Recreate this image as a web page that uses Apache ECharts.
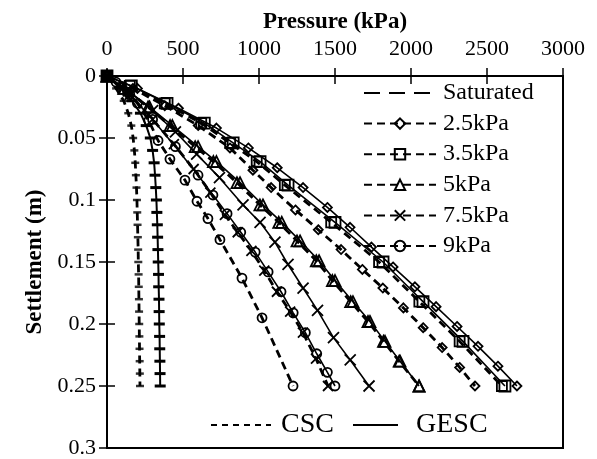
<!DOCTYPE html>
<html lang="en" style="height: 100%">
<head>
  <meta charset="utf-8">
</head>
<body style="height: 100%; margin: 0; background: #fff">
  <div id="container" style="width: 597px; height: 459px"></div>

  <script type="text/javascript" src="https://cdn.jsdelivr.net/npm/echarts@6/dist/echarts.min.js"></script>

  <script type="text/javascript">
    // settlement (m) and pressure (kPa)
    var SAT_S = [0, 0.01, 0.02, 0.03, 0.04, 0.05, 0.06, 0.07, 0.08, 0.09, 0.1, 0.11, 0.12, 0.13,
                 0.14, 0.15, 0.16, 0.17, 0.18, 0.19, 0.2, 0.21, 0.22, 0.23, 0.24, 0.25];
    var SAT_CSC_P = [0, 60, 110, 140, 160, 172, 180, 186, 190, 194, 197, 199, 201, 203,
                     205, 206, 208, 209, 210, 211, 212, 213, 214, 215, 216, 217];
    var SAT_GESC_P = [0, 90, 165, 220, 258, 285, 300, 310, 316, 321, 325, 328, 331, 333,
                      335, 337, 339, 340, 342, 343, 344, 346, 347, 348, 349, 350];

    var K25_CSC_S = [0, 0.01, 0.024, 0.04, 0.058, 0.076, 0.09, 0.108, 0.124, 0.14, 0.156, 0.171, 0.187, 0.203, 0.219, 0.235, 0.25];
    var K25_CSC_P = [0, 170, 380, 600, 809, 960, 1080, 1240, 1390, 1540, 1680, 1815, 1950, 2080, 2205, 2320, 2421];
    var K25_GESC_S = [0, 0.01, 0.026, 0.042, 0.058, 0.074, 0.09, 0.106, 0.122, 0.138, 0.154, 0.17, 0.186, 0.202, 0.218, 0.234, 0.25];
    var K25_GESC_P = [0, 200, 470, 720, 930, 1120, 1290, 1450, 1599, 1740, 1882, 2026, 2165, 2303, 2441, 2572, 2697];

    var K35_S = [0, 0.008, 0.022, 0.038, 0.054, 0.069, 0.088, 0.118, 0.15, 0.182, 0.214, 0.25];
    var K35_CSC_P = [0, 150, 380, 620, 810, 985, 1170, 1475, 1790, 2055, 2320, 2598];
    var K35_GESC_P = [0, 160, 395, 640, 830, 1007, 1191, 1500, 1816, 2079, 2342, 2618];

    var K5_S = [0, 0.01, 0.025, 0.04, 0.057, 0.069, 0.086, 0.104, 0.118, 0.133, 0.149, 0.165, 0.182, 0.198, 0.214, 0.23, 0.25];
    var K5_CSC_P = [0, 110, 270, 415, 580, 700, 855, 1006, 1130, 1250, 1377, 1483, 1603, 1717, 1819, 1922, 2053];
    var K5_GESC_P = [0, 115, 280, 430, 599, 720, 875, 1026, 1150, 1270, 1395, 1500, 1618, 1730, 1829, 1928, 2053];

    var K75_CSC_S = [0, 0.015, 0.035, 0.055, 0.075, 0.094, 0.112, 0.126, 0.141, 0.157, 0.174, 0.19, 0.207, 0.228, 0.25];
    var K75_CSC_P = [0, 150, 300, 440, 570, 680, 776, 860, 950, 1035, 1118, 1205, 1289, 1375, 1454];
    var K75_GESC_S = [0, 0.012, 0.028, 0.045, 0.063, 0.082, 0.104, 0.118, 0.134, 0.152, 0.171, 0.189, 0.211, 0.229, 0.25];
    var K75_GESC_P = [0, 140, 300, 450, 590, 740, 895, 1007, 1105, 1191, 1290, 1385, 1490, 1600, 1724];

    var K9_CSC_S = [0, 0.005, 0.013, 0.022, 0.036, 0.052, 0.067, 0.084, 0.101, 0.115, 0.132, 0.163, 0.195, 0.25];
    var K9_CSC_P = [0, 60, 135, 200, 275, 336, 414, 513, 592, 664, 743, 888, 1020, 1224];
    var K9_GESC_S = [0, 0.015, 0.035, 0.057, 0.08, 0.096, 0.111, 0.126, 0.142, 0.158, 0.174, 0.191, 0.207, 0.224, 0.239, 0.25];
    var K9_GESC_P = [0, 150, 300, 450, 599, 697, 790, 880, 975, 1060, 1145, 1225, 1305, 1380, 1450, 1500];

    var LEGEND_NAMES = ['Saturated', '2.5kPa', '3.5kPa', '5kPa', '7.5kPa', '9kPa'];
    var X_TICKS = { min: 0, max: 3000, interval: 500 };
    var Y_TICKS = { min: 0, max: 0.3, interval: 0.05 };

    var FONT = 'Liberation Serif';
    var CROSS = 'path://M0 0L10 10M10 0L0 10';

    function pairs(p, s) {
      return p.map(function (v, i) { return [v, s[i]]; });
    }

    // dashed = CSC, solid = GESC
    function curve(name, p, s, dashed, symbol, size) {
      return {
        name: name,
        type: 'line',
        data: pairs(p, s),
        symbol: symbol,
        symbolSize: size,
        showAllSymbol: true,
        lineStyle: dashed ? { color: '#000', width: 2.8, type: [8, 5] } : { color: '#000', width: 1.6 },
        itemStyle: { color: 'rgba(255,255,255,0)', borderColor: '#000', borderWidth: 1.8 },
        z: dashed ? 3 : 2
      };
    }

    var series = [
      // saturated CSC: line alone for the legend, bars drawn by a scatter
      {
        name: 'Saturated', type: 'line', data: pairs(SAT_CSC_P, SAT_S), symbol: 'none',
        lineStyle: { color: '#000', width: 2.8, type: [8, 5] },
        itemStyle: { color: 'rgba(0,0,0,0)', borderWidth: 0 }
      },
      {
        name: 'Saturated CSC pts', type: 'scatter', data: pairs(SAT_CSC_P, SAT_S),
        symbol: 'rect', symbolSize: [8, 2.5], itemStyle: { color: '#000' }
      },
      {
        name: 'Saturated GESC', type: 'line', data: pairs(SAT_GESC_P, SAT_S),
        symbol: 'rect', symbolSize: [11, 3], showAllSymbol: true,
        lineStyle: { color: '#000', width: 2 }, itemStyle: { color: '#000' }
      },
      curve('2.5kPa', K25_CSC_P, K25_CSC_S, true, 'diamond', 9),
      curve('2.5kPa GESC', K25_GESC_P, K25_GESC_S, false, 'diamond', 9),
      curve('3.5kPa', K35_CSC_P, K35_S, true, 'rect', 10),
      curve('3.5kPa GESC', K35_GESC_P, K35_S, false, 'rect', 11),
      curve('5kPa', K5_CSC_P, K5_S, true, 'triangle', 11),
      curve('5kPa GESC', K5_GESC_P, K5_S, false, 'triangle', 11),
      curve('7.5kPa', K75_CSC_P, K75_CSC_S, true, CROSS, 10),
      curve('7.5kPa GESC', K75_GESC_P, K75_GESC_S, false, CROSS, 11),
      curve('9kPa', K9_CSC_P, K9_CSC_S, true, 'circle', 9),
      curve('9kPa GESC', K9_GESC_P, K9_GESC_S, false, 'circle', 9),
      // dummy series for the line-style legend
      {
        name: 'CSC', type: 'line', data: [], symbol: 'none',
        lineStyle: { color: '#000', width: 1.5, type: [6, 5] },
        itemStyle: { color: 'rgba(0,0,0,0)', borderWidth: 0 }
      },
      {
        name: 'GESC', type: 'line', data: [], symbol: 'none',
        lineStyle: { color: '#000', width: 1.5 },
        itemStyle: { color: 'rgba(0,0,0,0)', borderWidth: 0 }
      }
    ];

    var chart = echarts.init(document.getElementById('container'), null, { renderer: 'canvas' });

    var axisTextStyle = { color: '#000', fontFamily: FONT };

    var option = {
      animation: false,
      backgroundColor: '#fff',
      textStyle: { fontFamily: FONT, color: '#000' },
      grid: {
        left: 107, right: 34, top: 76, bottom: 9,
        show: true, borderColor: '#000', borderWidth: 2, backgroundColor: 'transparent'
      },
      xAxis: [
        {
          type: 'value', position: 'top', min: X_TICKS.min, max: X_TICKS.max, interval: X_TICKS.interval,
          name: 'Pressure (kPa)', nameLocation: 'middle', nameGap: 42,
          nameTextStyle: { fontSize: 23, fontWeight: 'bold', color: '#000', fontFamily: FONT },
          axisLine: { lineStyle: { color: '#000', width: 2 } },
          axisTick: { inside: false, length: 8, lineStyle: { color: '#000', width: 1.5 } },
          axisLabel: Object.assign({ fontSize: 22, margin: 16, formatter: function (v) { return String(v); } }, axisTextStyle),
          splitLine: { show: false }
        },
        {
          type: 'value', position: 'top', min: X_TICKS.min, max: X_TICKS.max, interval: X_TICKS.interval,
          axisLine: { show: false },
          axisTick: { inside: true, length: 8, lineStyle: { color: '#000', width: 1.5 } },
          axisLabel: { show: false },
          splitLine: { show: false }
        }
      ],
      yAxis: [
        {
          type: 'value', position: 'left', inverse: true,
          min: Y_TICKS.min, max: Y_TICKS.max, interval: Y_TICKS.interval,
          name: 'Settlement (m)', nameLocation: 'middle', nameGap: 59,
          nameTextStyle: { fontSize: 23, fontWeight: 'bold', color: '#000', fontFamily: FONT },
          axisLine: { lineStyle: { color: '#000', width: 2 } },
          axisTick: { inside: false, length: 8, lineStyle: { color: '#000', width: 1.5 } },
          axisLabel: Object.assign({ fontSize: 22, margin: 11 }, axisTextStyle),
          splitLine: { show: false }
        },
        {
          type: 'value', position: 'left', inverse: true,
          min: Y_TICKS.min, max: Y_TICKS.max, interval: Y_TICKS.interval,
          axisLine: { show: false },
          axisTick: { inside: true, length: 8, lineStyle: { color: '#000', width: 1.5 } },
          axisLabel: { show: false },
          splitLine: { show: false }
        }
      ],
      legend: [
        {
          data: LEGEND_NAMES.map(function (n) {
            if (n === 'Saturated') return { name: n, lineStyle: { type: [16, 9] } };
            return n;
          }),
          orient: 'vertical', left: 363, top: 81, padding: 0,
          itemWidth: 72, itemHeight: 13, itemGap: 6.6,
          textStyle: { fontSize: 24, lineHeight: 24, color: '#000', fontFamily: FONT, padding: [0, 0, 0, 2] }
        },
        {
          data: ['CSC'], left: 210, top: 411, padding: 0, itemWidth: 60, itemHeight: 12,
          textStyle: { fontSize: 28, lineHeight: 28, color: '#000', fontFamily: FONT, padding: [0, 0, 0, 5] }
        },
        {
          data: ['GESC'], left: 352, top: 411, padding: 0, itemWidth: 45, itemHeight: 12,
          textStyle: { fontSize: 28, lineHeight: 28, color: '#000', fontFamily: FONT, padding: [0, 0, 0, 13] }
        }
      ],
      series: series
    };

    chart.setOption(option);
  </script>
</body>
</html>
